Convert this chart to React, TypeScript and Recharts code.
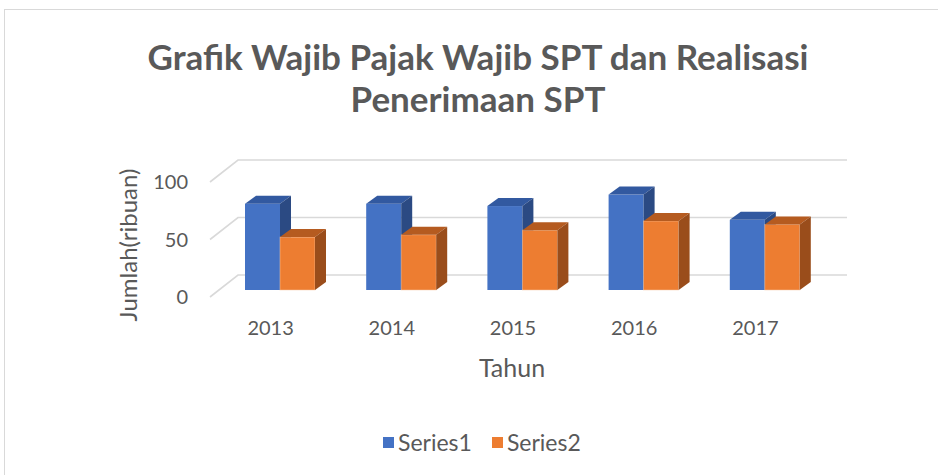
import { BarChart, Bar, XAxis, YAxis, CartesianGrid, Legend } from "recharts";

const years = ["2013", "2014", "2015", "2016", "2017"];
const series1 = [75, 75, 73, 83, 61];
const series2 = [46, 48, 52, 60, 57];
const yTicks = [0, 50, 100];

const data = years.map((year, i) => ({ year, series1: series1[i], series2: series2[i] }));

const FONT = "Lato, 'Open Sans', sans-serif";
const TEXT = "#595959";
const GRID = "#d9d9d9";
// depth of the box faces (bars)
const DX = 11;
const DY = 8;

const colors = {
  s1: { front: "#4472C4", top: "#3259A0", side: "#2B4A83" },
  s2: { front: "#ED7D31", top: "#B55B20", side: "#9A4D1B" },
};

function Box3D(props: any) {
  const { x, y, width, height, c } = props;
  if (!height || height <= 0) return null;
  const r = x + width;
  const b = y + height;
  return (
    <g>
      <rect x={x} y={y} width={width} height={height} fill={c.front} stroke="#f7c9a8" strokeOpacity={c === colors.s2 ? 0.6 : 0} strokeWidth={0.8} />
      <polygon points={`${x},${y} ${x + DX},${y - DY} ${r + DX},${y - DY} ${r},${y}`} fill={c.top} />
      <polygon points={`${r},${y} ${r + DX},${y - DY} ${r + DX},${b - DY} ${r},${b}`} fill={c.side} />
    </g>
  );
}

// each horizontal grid line: diagonal on the side wall, then along the back wall
function WallLine(props: any) {
  const { x1, x2, y1 } = props;
  const pts = `${x1 - 9},${y1 + 7} ${x1 + 19},${y1 - 15} ${x2 + 22},${y1 - 15}`;
  return <polyline points={pts} fill="none" stroke={GRID} strokeWidth={1.6} />;
}

function YTick(props: any) {
  const { x, y, payload } = props;
  return (
    <text x={x - 23} y={y + 7} dy="0.36em" textAnchor="end" fill={TEXT} fontSize={20} fontFamily={FONT}>
      {payload.value}
    </text>
  );
}

function XTick(props: any) {
  const { x, y, payload } = props;
  return (
    <text x={x - 9} y={y + 30} dy="0.36em" textAnchor="middle" fill={TEXT} fontSize={20} fontFamily={FONT}>
      {payload.value}
    </text>
  );
}

function LegendBox(props: any) {
  const { payload } = props;
  return (
    <div style={{ height: 30, display: "flex", alignItems: "center", paddingLeft: 383, fontFamily: FONT, fontSize: 23, color: TEXT }}>
      {(payload || []).map((p: any, i: number) => (
        <div key={i} style={{ display: "flex", alignItems: "center", marginRight: 20 }}>
          <span style={{ width: 11, height: 11, background: p.color, display: "inline-block", marginRight: 4 }} />
          <span>{p.value}</span>
        </div>
      ))}
    </div>
  );
}

export default function App() {
  return (
    <div style={{ position: "absolute", left: 0, top: 0, width: 938, height: 475, overflow: "hidden", background: "#fff" }}>
      <div style={{ position: "absolute", left: 4, top: 9, width: 1000, height: 1000, border: `1px solid ${GRID}` }} />
      <div
        style={{
          position: "absolute",
          left: 9,
          top: 35,
          width: 938,
          textAlign: "center",
          fontFamily: FONT,
          fontWeight: 700,
          fontSize: 35,
          lineHeight: "42px",
          color: TEXT,
        }}
      >
        Grafik Wajib Pajak Wajib SPT dan Realisasi
        <br />
        Penerimaan SPT
      </div>
      <div style={{ position: "absolute", left: 0, top: 0 }}>
        <BarChart
          width={938}
          height={475}
          data={data}
          margin={{ top: 175, right: 113, bottom: 125, left: 159 }}
          barGap={0}
          barSize={35}
        >
          <CartesianGrid vertical={false} horizontal={(p: any) => <WallLine {...p} />} />
          <XAxis
            dataKey="year"
            axisLine={false}
            tickLine={false}
            height={30}
            tick={<XTick />}
            label={{
              content: (p: any) => (
                <text
                  x={p.viewBox.x + p.viewBox.width / 2 - 10}
                  y={368}
                  textAnchor="middle"
                  dy="0.36em"
                  fill={TEXT}
                  fontSize={25}
                  fontFamily={FONT}
                >
                  Tahun
                </text>
              ),
            }}
          />
          <YAxis
            width={60}
            domain={[0, 100]}
            ticks={yTicks}
            axisLine={false}
            tickLine={false}
            tick={<YTick />}
            label={{
              content: () => (
                <text
                  x={128}
                  y={245}
                  transform="rotate(-90 128 245)"
                  textAnchor="middle"
                  dy="0.36em"
                  fill={TEXT}
                  fontSize={24}
                  fontFamily={FONT}
                >
                  Jumlah(ribuan)
                </text>
              ),
            }}
          />
          <Legend
            verticalAlign="bottom"
            content={<LegendBox />}
            wrapperStyle={{ top: 427, bottom: "auto", left: 0, width: 938 }}
          />
          <Bar
            dataKey="series1"
            name="Series1"
            fill={colors.s1.front}
            isAnimationActive={false}
            shape={(p: any) => <Box3D {...p} c={colors.s1} />}
          />
          <Bar
            dataKey="series2"
            name="Series2"
            fill={colors.s2.front}
            isAnimationActive={false}
            shape={(p: any) => <Box3D {...p} c={colors.s2} />}
          />
        </BarChart>
      </div>
    </div>
  );
}
